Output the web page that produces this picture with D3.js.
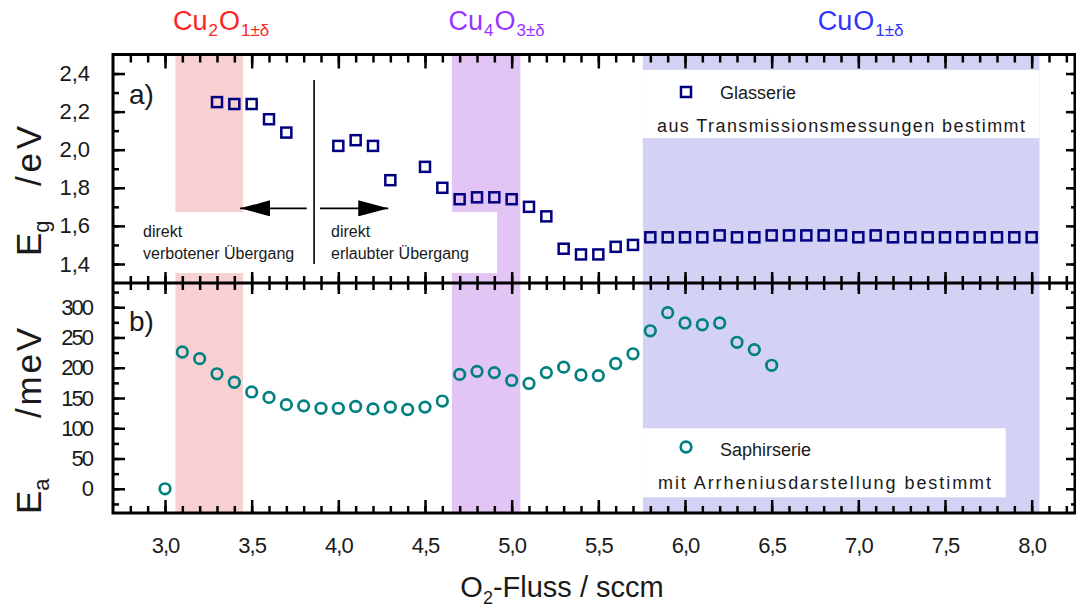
<!DOCTYPE html>
<html>
<head>
<meta charset="utf-8">
<script src="https://cdn.jsdelivr.net/npm/d3@7"></script>
<style>
  body { margin: 0; background: #fff; }
  svg { display: block; }
  text { font-family: "Liberation Sans", Arial, sans-serif; fill: #1a1a1a; }
</style>
</head>
<body>
<svg id="chart" width="1076" height="613"></svg>
<script>
// Glass series: optical band gap from transmission measurements (eV)
const glassFlow = [3.3, 3.4, 3.5, 3.6, 3.7, 4.0, 4.1, 4.2, 4.3, 4.5, 4.6, 4.7, 4.8, 4.9, 5.0, 5.1, 5.2,
  5.3, 5.4, 5.5, 5.6, 5.7, 5.8, 5.9, 6.0, 6.1, 6.2, 6.3, 6.4, 6.5, 6.6, 6.7, 6.8, 6.9, 7.0,
  7.1, 7.2, 7.3, 7.4, 7.5, 7.6, 7.7, 7.8, 7.9, 8.0];
const glassGap = [2.25, 2.24, 2.24, 2.16, 2.09, 2.02, 2.05, 2.02, 1.84, 1.91, 1.80, 1.74, 1.75, 1.75, 1.74, 1.70, 1.65,
  1.48, 1.45, 1.45, 1.49, 1.50, 1.54, 1.54, 1.54, 1.54, 1.55, 1.54, 1.54, 1.55, 1.55, 1.55, 1.55, 1.55, 1.54,
  1.55, 1.54, 1.54, 1.54, 1.54, 1.54, 1.54, 1.54, 1.54, 1.54];

// Sapphire series: activation energy from Arrhenius plots (meV)
const sapphireFlow = [3.0, 3.1, 3.2, 3.3, 3.4, 3.5, 3.6, 3.7, 3.8, 3.9, 4.0, 4.1, 4.2, 4.3, 4.4, 4.5, 4.6,
  4.7, 4.8, 4.9, 5.0, 5.1, 5.2, 5.3, 5.4, 5.5, 5.6, 5.7, 5.8, 5.9, 6.0, 6.1, 6.2, 6.3, 6.4, 6.5];
const sapphireEa = [0, 226, 215, 190, 176, 160, 151, 139, 137, 133, 133, 136, 132, 135, 131, 135, 145,
  189, 194, 192, 179, 174, 192, 201, 188, 187, 207, 223, 261, 291, 274, 271, 274, 242, 230, 204];

// Axis ticks and labels
const xMajorTicks = [3.0, 3.5, 4.0, 4.5, 5.0, 5.5, 6.0, 6.5, 7.0, 7.5, 8.0];
const xTickLabels = ["3,0", "3,5", "4,0", "4,5", "5,0", "5,5", "6,0", "6,5", "7,0", "7,5", "8,0"];
const xMinorTicks = d3.range(28, 83).map(v => v / 10);
const egMajorTicks = [1.4, 1.6, 1.8, 2.0, 2.2, 2.4];
const egTickLabels = ["1,4", "1,6", "1,8", "2,0", "2,2", "2,4"];
const egMinorTicks = d3.range(14, 25).map(v => v / 10);
const eaMajorTicks = [0, 50, 100, 150, 200, 250, 300];
const eaTickLabels = ["0", "50", "100", "150", "200", "250", "300"];
const eaMinorTicks = d3.range(-25, 330, 25);

// Phase regions along the O2 flow axis
const phaseFrom = [3.06, 4.655, 5.757];
const phaseTo = [3.45, 5.05, 8.045];
const phaseFill = ["#f8d0d1", "#e2c5f4", "#d4d2f4"];
const phaseColor = ["#ff2424", "#9933ff", "#3333ff"];
const phaseLabelFlow = [3.04, 4.63, 6.76];
const phaseLabelParts = [
  [["Cu", 0], ["2", 1], ["O", 0], ["1±δ", 1]],
  [["Cu", 0], ["4", 1], ["O", 0], ["3±δ", 1]],
  [["Cu", 0], ["O", 0], ["1±δ", 1]]
];

const svg = d3.select("#chart");
const left = 113, right = 1075, topA = 54.5, mid = 283, bottomB = 513;

const x = d3.scaleLinear().domain([2.7, 8.25]).range([left, right]);
const yA = d3.scaleLinear().domain([1.3, 2.5]).range([mid, topA]);
const yB = d3.scaleLinear().domain([-40, 340]).range([bottomB, mid]);

// phase bands spanning both panels
phaseFrom.forEach((f, i) => {
  svg.append("rect").attr("x", x(f)).attr("width", x(phaseTo[i]) - x(f))
    .attr("y", topA).attr("height", bottomB - topA).attr("fill", phaseFill[i]);
});

// white boxes behind annotations and legends
function whiteBox(x0, x1, y0, y1) {
  svg.append("rect").attr("x", x0).attr("y", y0).attr("width", x1 - x0).attr("height", y1 - y0).attr("fill", "#fff");
}
whiteBox(x(2.7), x(4.916), yA(1.673), yA(1.352));
whiteBox(x(5.757), x(8.045), yA(2.419), yA(2.061));
whiteBox(x(5.757), x(7.85), yB(100), yB(-14));

// phase labels above the plot, with subscripts
phaseLabelParts.forEach((parts, i) => {
  const t = svg.append("text").attr("x", x(phaseLabelFlow[i])).attr("y", 30)
    .style("font-size", "27px").style("fill", phaseColor[i]);
  parts.forEach(([s, sub], k) => {
    const prevSub = k > 0 ? parts[k - 1][1] : 0;
    const ts = t.append("tspan").text(s).style("fill", phaseColor[i])
      .attr("dx", 1)
      .attr("dy", sub && !prevSub ? 6 : (!sub && prevSub ? -6 : 0));
    if (sub) ts.style("font-size", "17px");
  });
});

// axis helper: ticks only, domain path drawn separately as a frame
function axis(gen, tx, ty, size, values, labels) {
  const g = svg.append("g").attr("transform", `translate(${tx},${ty})`)
    .call(gen.tickValues(values).tickSize(size).tickPadding(10)
      .tickFormat((d, i) => labels ? labels[i] : ""));
  g.select(".domain").remove();
  g.selectAll(".tick line").attr("stroke", "#000").attr("stroke-width", 2.5);
  return g;
}

// x axes: top of panel a, divider (both directions), bottom of panel b
axis(d3.axisTop(x), 0, topA, -8, xMinorTicks);
axis(d3.axisTop(x), 0, topA, -14, xMajorTicks);
axis(d3.axisBottom(x), 0, mid, -7, xMinorTicks);
axis(d3.axisBottom(x), 0, mid, -11, xMajorTicks);
axis(d3.axisTop(x), 0, mid, -7, xMinorTicks);
axis(d3.axisTop(x), 0, mid, -11, xMajorTicks);
axis(d3.axisBottom(x), 0, bottomB, -7, xMinorTicks);
const xb = axis(d3.axisBottom(x), 0, bottomB, -13, xMajorTicks, xTickLabels);
xb.selectAll("text").attr("y", 24).style("font-size", "22px").style("font-family", "'Liberation Sans', Arial, sans-serif")
  .attr("fill", "#1a1a1a").attr("letter-spacing", "-1px");

// y axes, left and right, both panels
axis(d3.axisLeft(yA), left, 0, -6, egMinorTicks);
const ya = axis(d3.axisLeft(yA), left, 0, -12, egMajorTicks, egTickLabels);
axis(d3.axisRight(yA), right, 0, -4, egMinorTicks);
axis(d3.axisRight(yA), right, 0, -9, egMajorTicks);
axis(d3.axisLeft(yB), left, 0, -6, eaMinorTicks);
const yb = axis(d3.axisLeft(yB), left, 0, -12, eaMajorTicks, eaTickLabels);
axis(d3.axisRight(yB), right, 0, -4, eaMinorTicks);
axis(d3.axisRight(yB), right, 0, -9, eaMajorTicks);
ya.selectAll("text").attr("x", -23).style("font-size", "22px").attr("fill", "#1a1a1a");
yb.selectAll("text").attr("x", -21).style("font-size", "22px").attr("fill", "#1a1a1a").attr("letter-spacing", "-2px");

// frames
svg.append("rect").attr("x", left).attr("y", topA).attr("width", right - left).attr("height", bottomB - topA)
  .attr("fill", "none").attr("stroke", "#000").attr("stroke-width", 3);
svg.append("line").attr("x1", left).attr("x2", right).attr("y1", mid).attr("y2", mid)
  .attr("stroke", "#000").attr("stroke-width", 3);

// panel tags
svg.append("text").attr("x", 129).attr("y", 104).style("font-size", "28px").text("a)");
svg.append("text").attr("x", 129).attr("y", 331).style("font-size", "28px").text("b)");

// x axis title
svg.append("text").attr("x", 562).attr("y", 597).attr("text-anchor", "middle").style("font-size", "29px")
  .call(t => {
    t.append("tspan").text("O");
    t.append("tspan").text("2").style("font-size", "18px").attr("dy", 7);
    t.append("tspan").text("-Fluss / sccm").attr("dy", -7);
  });

// y axis titles: symbol with subscript, then unit
function yTitle(sym, sub, unit, yStart, yUnit, unitLen) {
  svg.append("text").attr("transform", `translate(41,${yStart}) rotate(-90)`).style("font-size", "35px")
    .call(t => {
      t.append("tspan").text(sym);
      t.append("tspan").text(sub).style("font-size", "22px").attr("dy", 8);
    });
  svg.append("text").attr("transform", `translate(41,${yUnit}) rotate(-90)`).style("font-size", "35px")
    .attr("textLength", unitLen).attr("lengthAdjust", "spacing").text(unit);
}
yTitle("E", "g", "/eV", 256, 186, 60);
yTitle("E", "a", "/meV", 514, 418, 90);

// transition annotation: divider line and arrows
const defs = svg.append("defs");
defs.append("marker").attr("id", "head").attr("viewBox", "0 0 30 16").attr("refX", 30).attr("refY", 8)
  .attr("markerWidth", 30).attr("markerHeight", 16).attr("markerUnits", "userSpaceOnUse").attr("orient", "auto")
  .append("path").attr("d", "M0,0 L30,8 L0,16 Z").attr("fill", "#000");
svg.append("line").attr("x1", x(3.86)).attr("x2", x(3.86)).attr("y1", yA(2.366)).attr("y2", yA(1.40))
  .attr("stroke", "#000").attr("stroke-width", 1.6);
svg.append("line").attr("x1", x(3.818)).attr("x2", x(3.433)).attr("y1", yA(1.692)).attr("y2", yA(1.692))
  .attr("stroke", "#000").attr("stroke-width", 1.6).attr("marker-end", "url(#head)");
svg.append("line").attr("x1", x(3.894)).attr("x2", x(4.288)).attr("y1", yA(1.692)).attr("y2", yA(1.692))
  .attr("stroke", "#000").attr("stroke-width", 1.6).attr("marker-end", "url(#head)");
[["direkt", 143, 237], ["verbotener Übergang", 143, 259], ["direkt", 331, 237], ["erlaubter Übergang", 331, 259]]
  .forEach(([s, px, py]) => svg.append("text").attr("x", px).attr("y", py).style("font-size", "16px").text(s));

// legends
svg.append("rect").attr("x", 681).attr("y", 87).attr("width", 10).attr("height", 10)
  .attr("fill", "none").attr("stroke", "#000080").attr("stroke-width", 2.5);
svg.append("text").attr("x", 720).attr("y", 98.5).style("font-size", "18px").text("Glasserie");
svg.append("text").attr("x", 657).attr("y", 131.5).style("font-size", "18px")
  .attr("textLength", 368).attr("lengthAdjust", "spacing").text("aus Transmissionsmessungen bestimmt");
svg.append("circle").attr("cx", 686).attr("cy", 447).attr("r", 5.3)
  .attr("fill", "none").attr("stroke", "#008080").attr("stroke-width", 2.7);
svg.append("text").attr("x", 720).attr("y", 456).style("font-size", "18px").text("Saphirserie");
svg.append("text").attr("x", 658).attr("y", 489).style("font-size", "18px")
  .attr("textLength", 333).attr("lengthAdjust", "spacing").text("mit Arrheniusdarstellung bestimmt");

// data marks
svg.append("g").selectAll("rect").data(glassFlow).join("rect")
  .attr("x", d => x(d) - 5).attr("y", (d, i) => yA(glassGap[i]) - 5)
  .attr("width", 10).attr("height", 10)
  .attr("fill", "none").attr("stroke", "#000080").attr("stroke-width", 2.5);
svg.append("g").selectAll("circle").data(sapphireFlow).join("circle")
  .attr("cx", d => x(d)).attr("cy", (d, i) => yB(sapphireEa[i])).attr("r", 5.3)
  .attr("fill", "none").attr("stroke", "#008080").attr("stroke-width", 2.7);
</script>
</body>
</html>
